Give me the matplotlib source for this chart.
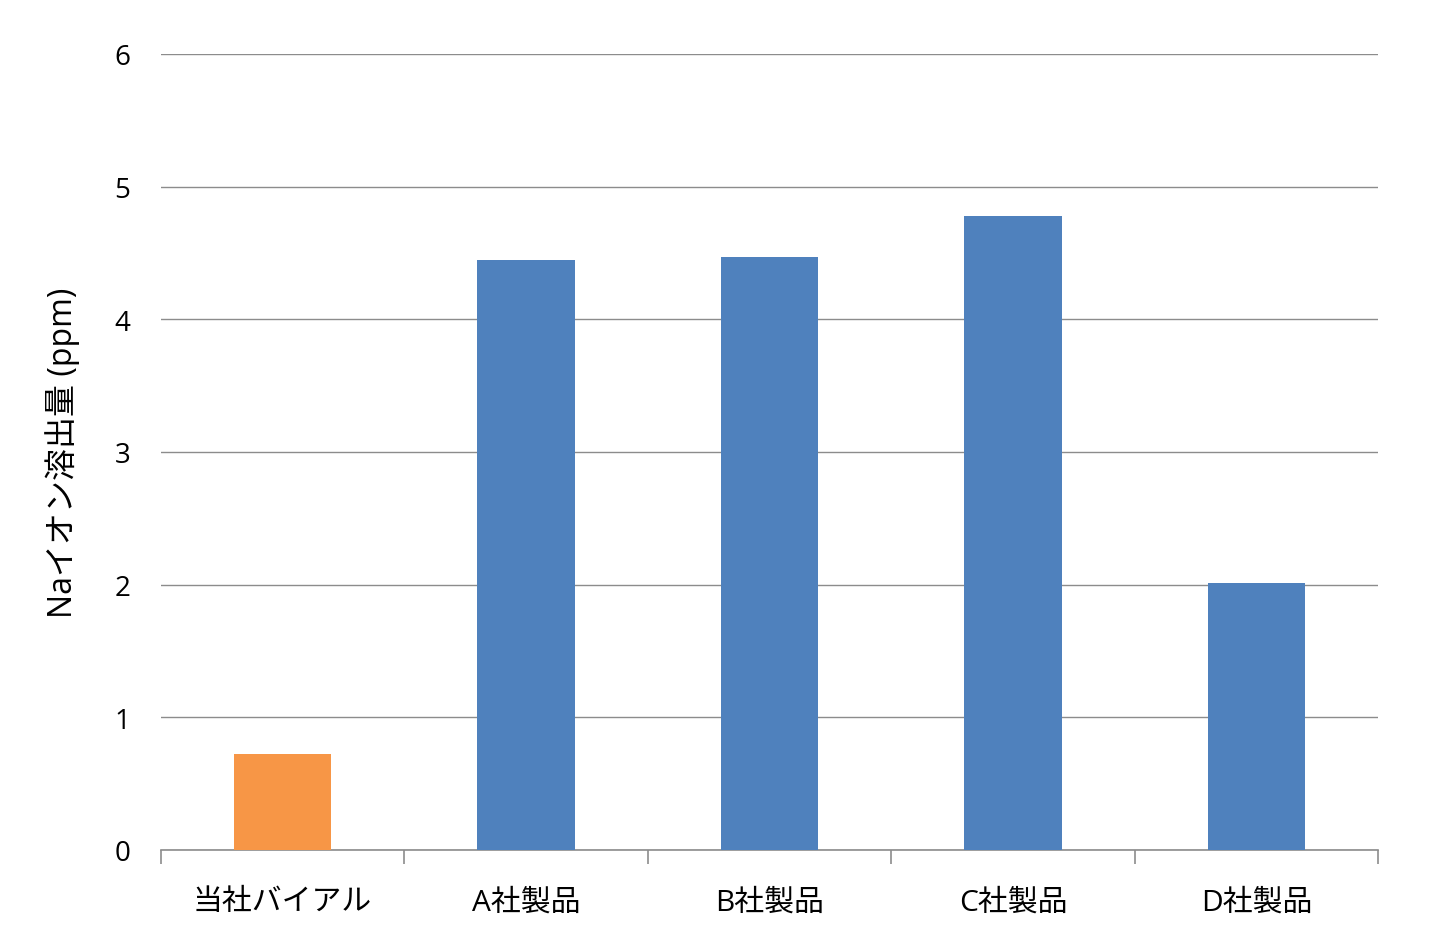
import matplotlib
matplotlib.use("Agg")
import numpy as np
import matplotlib.pyplot as plt

plt.rcParams["font.family"] = ["Open Sans", "Noto Sans CJK JP", "DejaVu Sans"]

# ── data ─────────────────────────────────────────────────────────────────────
CATEGORIES = ["当社バイアル", "A社製品", "B社製品", "C社製品", "D社製品"]
VALUES = [0.72, 4.45, 4.47, 4.78, 2.01]
BAR_COLORS = ["#F79646", "#4F81BD", "#4F81BD", "#4F81BD", "#4F81BD"]
Y_TICKS = [0, 1, 2, 3, 4, 5, 6]
Y_LABEL = "Naイオン溶出量 (ppm)"

GRID_COLOR = "#8c8c8c"

fig = plt.figure(figsize=(14.41, 9.45), dpi=100)
ax = fig.add_axes([0.1117, 0.0995, 0.8446, 0.8423])

x = np.arange(len(CATEGORIES))
ax.bar(x, VALUES, width=0.4, color=BAR_COLORS, zorder=3)

ax.set_xlim(-0.5, len(CATEGORIES) - 0.5)
ax.set_ylim(0, 6)
ax.set_yticks(Y_TICKS)
ax.set_yticklabels([str(t) for t in Y_TICKS], fontsize=20)
ax.set_xticks(x)
ax.set_xticklabels(CATEGORIES, fontsize=21.5)
ax.set_ylabel(Y_LABEL, fontsize=23, labelpad=25)

# gridlines
ax.grid(axis="y", color=GRID_COLOR, linewidth=1.0, zorder=0)
ax.set_axisbelow(True)

# spines
for s in ["top", "right", "left"]:
    ax.spines[s].set_visible(False)
ax.spines["bottom"].set_color(GRID_COLOR)
ax.spines["bottom"].set_linewidth(1.2)

# category ticks at boundaries
ax.tick_params(axis="y", length=0, pad=22)
ax.tick_params(axis="x", which="major", length=0, pad=27)
ax.set_xticks(np.arange(-0.5, len(CATEGORIES), 1.0), minor=True)
ax.tick_params(axis="x", which="minor", length=10, color=GRID_COLOR, width=1.2)

fig.savefig("out.png", dpi=100)
